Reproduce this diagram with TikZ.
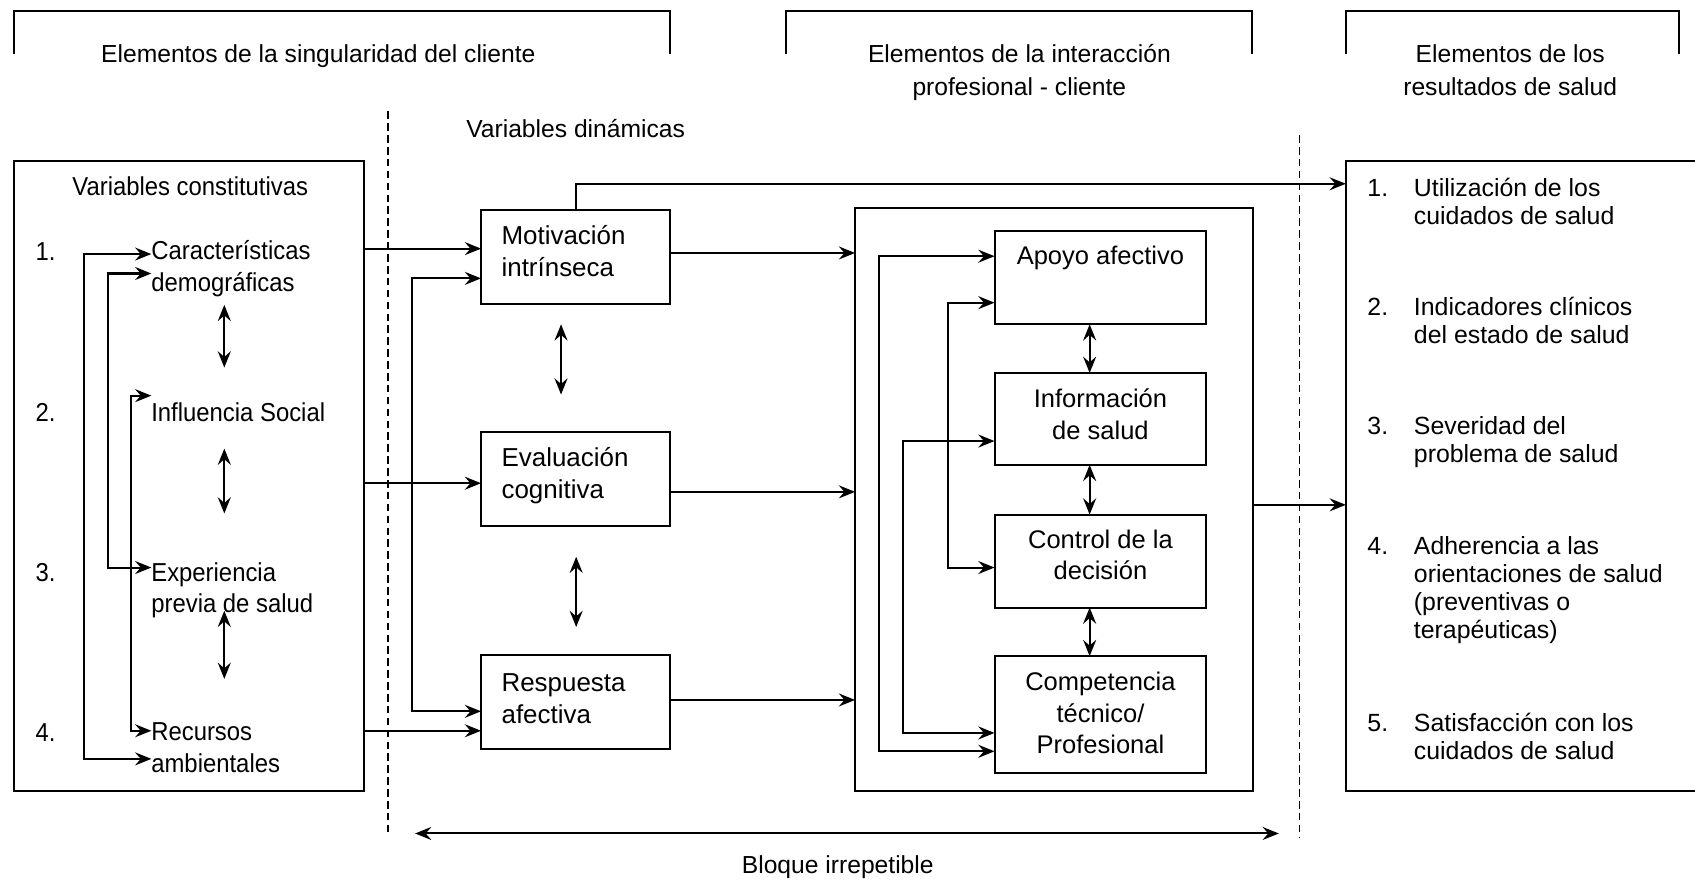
\documentclass[tikz,border=0pt]{standalone}
\usepackage{fontspec}
\setmainfont{Liberation Sans}
\newfontfamily\narrowsf[FakeStretch=0.92]{Liberation Sans}
\usetikzlibrary{arrows.meta}
% stacked lines whose baseline is the first line
\newcommand\lftlines[1]{\vtop{\halign{##\hfil\cr#1\crcr}}}
\newcommand\ctrlines[1]{\vtop{\halign{\hfil##\hfil\cr#1\crcr}}}
\begin{document}
\begin{tikzpicture}[x=0.5pt, y=-0.5pt, line width=0.95pt,
  >={Stealth[length=7.5pt,width=6pt,inset=2.6pt]},
  every node/.style={inner sep=0pt, outer sep=0pt},
  box/.style={draw, line width=0.95pt, rectangle},
  arr/.style={->},
  darr/.style={<->},
  guide/.style={line width=0.8pt, dash pattern=on 3.5pt off 2pt},
  hdr/.style={font=\fontsize{11.4pt}{15.5pt}\selectfont, anchor=base},
  lbl/.style={font=\narrowsf\fontsize{12pt}{15pt}\selectfont, anchor=base west},
  midtxt/.style={font=\fontsize{12pt}{14.75pt}\selectfont, anchor=base west},
  inntxt/.style={font=\fontsize{11.8pt}{14.6pt}\selectfont, anchor=base},
  outtxt/.style={font=\fontsize{11.5pt}{12.9pt}\selectfont, anchor=base west},
]
\useasboundingbox (0,0) rectangle (1568,816);

% ---------- section brackets and headings ----------
\draw (13,50) |- (620,10) -- (620,50);
\draw (727,50) |- (1158,10) -- (1158,50);
\draw (1245,50) |- (1553,10) -- (1553,50);
\node[hdr] (h1) at (294.5,57.7) {Elementos de la singularidad del cliente};
\node[hdr] (h2) at (943,57.7) {\ctrlines{Elementos de la interacción\cr profesional - cliente}};
\node[hdr] (h3) at (1397,57.7) {\ctrlines{Elementos de los\cr resultados de salud}};
\node[hdr] (vd) at (532.5,127) {Variables dinámicas};

% ---------- dashed separators ----------
\coordinate (d1t) at (358.6,103); \coordinate (d1b) at (358.6,773);
\coordinate (d2t) at (1202,125);  \coordinate (d2b) at (1202,775);
\draw[guide] (d1t) -- (d1b);
\draw[guide] (d2t) -- (d2b);

% ---------- boxes ----------
\node[box, minimum width=162pt, minimum height=291.5pt] (cons) at (175,440.5) {};
\node[box, minimum width=87.5pt, minimum height=43.5pt] (mot) at (532.5,237.5) {};
\node[box, minimum width=87.5pt, minimum height=43.5pt] (eval) at (532.5,443.5) {};
\node[box, minimum width=87.5pt, minimum height=43.5pt] (resp) at (532.5,649.5) {};
\node[box, minimum width=184pt, minimum height=270pt] (big) at (975,462) {};
\node[box, minimum width=98pt, minimum height=43pt] (apo) at (1018,257) {};
\node[box, minimum width=98pt, minimum height=42.5pt] (inf) at (1018,387.5) {};
\node[box, minimum width=98pt, minimum height=43pt] (ctl) at (1018,519) {};
\node[box, minimum width=98pt, minimum height=54pt] (cmp) at (1018,661) {};
\node[box, minimum width=177.5pt, minimum height=291.5pt] (res) at (1422.5,440.5) {};

% ---------- constitutive variables ----------
\node[lbl, anchor=base] (vc) at (176,181) {Variables constitutivas};
\node[lbl] (n1) at (33,241) {1.};
\node[lbl] (n2) at (33,390) {2.};
\node[lbl] (n3) at (33,538) {3.};
\node[lbl] (n4) at (33,686) {4.};
\node[lbl] (car1) at (140,240) {Características};
\node[lbl] (car2) at (140,270) {demográficas};
\node[lbl] (infl) at (140,390) {Influencia Social};
\node[lbl] (exp1) at (140,538) {Experiencia};
\node[lbl] (exp2) at (140,567) {previa de salud};
\node[lbl] (rec1) at (140,685) {Recursos};
\node[lbl] (rec2) at (140,715) {ambientales};

\draw[darr] ([yshift=2.5pt]car1.base west) -- ++(-62,0) |- ([yshift=6.5pt]rec2.base west);
\draw[darr] ([yshift=8.5pt]car2.base west) -- ++(-40,0) |- ([yshift=6.5pt]exp1.base west);
\draw[darr] ([yshift=12pt]infl.base west) -- ++(-19,0) |- ([yshift=4.5pt]rec1.base west);

\draw[darr] ([xshift=33.75pt,yshift=-6pt]car2.base west) -- ([xshift=33.75pt,yshift=25pt]infl.base west);
\draw[darr] ([xshift=33.75pt,yshift=-12.5pt]infl.base west) -- ([xshift=33.75pt,yshift=31.5pt]exp1.base west);
\draw[darr] ([xshift=33.75pt,yshift=1pt]exp2.base west) -- ([xshift=33.75pt,yshift=28.5pt]rec1.base west);

% ---------- dynamic variables ----------
\node[midtxt] (mtx) at (464,226.6) {\lftlines{Motivación\cr intrínseca}};
\node[midtxt] (etx) at (464,431.6) {\lftlines{Evaluación\cr cognitiva}};
\node[midtxt] (rtx) at (464,639.6) {\lftlines{Respuesta\cr afectiva}};

\coordinate (mA) at ([yshift=3.75pt]mot.west);
\coordinate (mB) at ([yshift=-10pt]mot.west);
\coordinate (eA) at ([yshift=-1.75pt]eval.west);
\coordinate (rA) at ([yshift=-4.25pt]resp.west);
\coordinate (rB) at ([yshift=-13.25pt]resp.west);
\draw[arr] (cons.east |- mA) -- (mA);
\draw[arr] (cons.east |- eA) -- (eA);
\draw[arr] (cons.east |- rB) -- (rB);
\draw[darr] (mB) -- ++(-64,0) |- (rA);

\draw[darr] ([xshift=-6.75pt,yshift=-9.5pt]mot.south) -- ([xshift=-6.75pt,yshift=17.5pt]eval.north);
\draw[darr] ([xshift=0.25pt,yshift=-14pt]eval.south) -- ([xshift=0.25pt,yshift=13pt]resp.north);

\coordinate (mO) at ([yshift=1.75pt]mot.east);
\coordinate (eO) at ([yshift=-5.75pt]eval.east);
\coordinate (rO) at ([yshift=1pt]resp.east);
\draw[arr] (mO) -- (mO -| big.west);
\draw[arr] (eO) -- (eO -| big.west);
\draw[arr] (rO) -- (rO -| big.west);

\coordinate (rT) at ([yshift=135.25pt]res.west);
\draw[arr] (mot.north) |- (rT);

% ---------- professional - client interaction ----------
\node[inntxt] (atx) at (1018,245) {Apoyo afectivo};
\node[inntxt] (itx) at (1018,377) {\ctrlines{Información\cr de salud}};
\node[inntxt] (ctx) at (1018,507) {\ctrlines{Control de la\cr decisión}};
\node[inntxt] (ptx) at (1018,639) {\ctrlines{Competencia\cr técnico/\cr Profesional}};

\draw[darr] ([yshift=10pt]apo.west) -- ++(-107,0) |- ([yshift=-17pt]cmp.west);
\draw[darr] ([yshift=-11.5pt]apo.west) -- ++(-43,0) |- ([yshift=-3pt]ctl.west);
\draw[darr] ([yshift=-10.25pt]inf.west) -- ++(-85,0) |- ([yshift=-8.5pt]cmp.west);

\draw[darr] ([xshift=-5pt]apo.south) -- ([xshift=-5pt]inf.north);
\draw[darr] ([xshift=-5pt]inf.south) -- ([xshift=-5pt]ctl.north);
\draw[darr] ([xshift=-5pt]ctl.south) -- ([xshift=-5pt]cmp.north);

\coordinate (bO) at ([yshift=-2.5pt]big.east);
\draw[arr] (bO) -- (bO -| res.west);

% ---------- health outcomes ----------
\node[outtxt] (o1) at (1265,182) {1.};
\node[outtxt] (o2) at (1265,292) {2.};
\node[outtxt] (o3) at (1265,402) {3.};
\node[outtxt] (o4) at (1265,513) {4.};
\node[outtxt] (o5) at (1265,677) {5.};
\node[outtxt] (t1) at (1308,182) {\lftlines{Utilización de los\cr cuidados de salud}};
\node[outtxt] (t2) at (1308,292) {\lftlines{Indicadores clínicos\cr del estado de salud}};
\node[outtxt] (t3) at (1308,402) {\lftlines{Severidad del\cr problema de salud}};
\node[outtxt] (t4) at (1308,513) {\lftlines{Adherencia a las\cr orientaciones de salud\cr (preventivas o\cr terapéuticas)}};
\node[outtxt] (t5) at (1308,677) {\lftlines{Satisfacción con los\cr cuidados de salud}};

% ---------- unrepeatable block ----------
\coordinate (bl) at (384,771);
\coordinate (br) at (1183,771);
\draw[darr] (bl) -- (br);
\node[hdr] (bq) at (775,808) {Bloque irrepetible};
\end{tikzpicture}
\end{document}
